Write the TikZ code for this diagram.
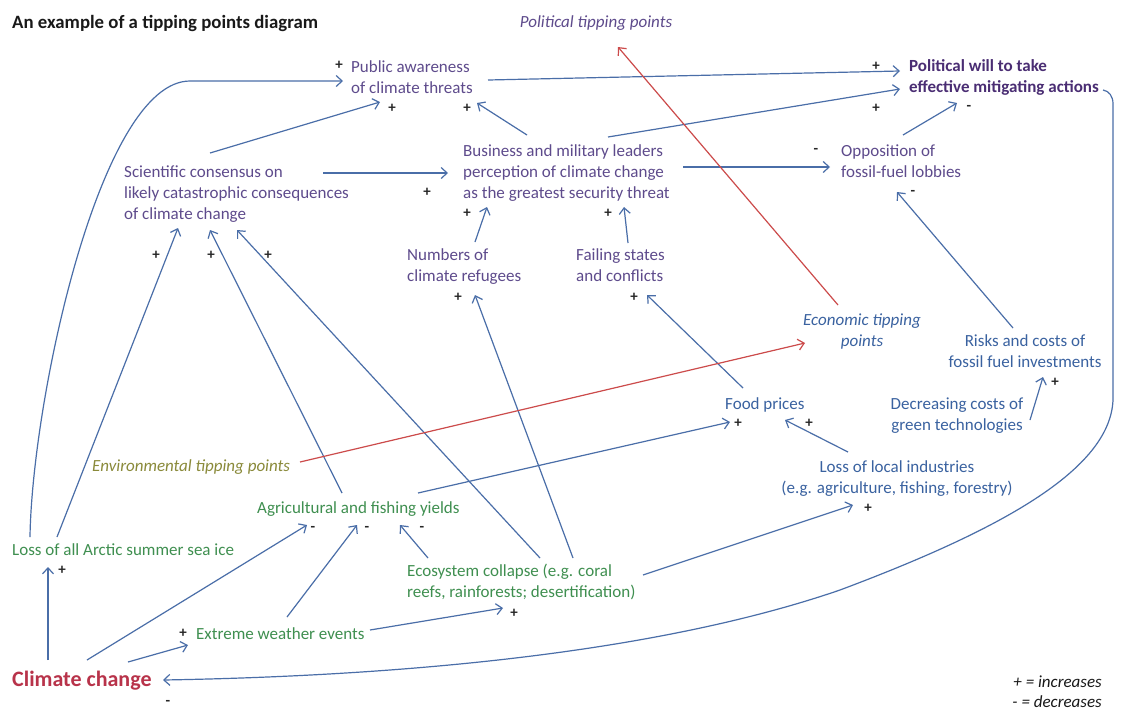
\documentclass[tikz,border=0pt]{standalone}
\usepackage{fontspec}
\setmainfont{Carlito}
\usetikzlibrary{arrows.meta}
\definecolor{purp}{HTML}{5E4B8C}
\definecolor{purpd}{HTML}{4A2D73}
\definecolor{bluet}{HTML}{3A62A0}
\definecolor{greent}{HTML}{3F8F50}
\definecolor{olivet}{HTML}{8A8A3A}
\definecolor{redt}{HTML}{B8334A}
\definecolor{arrowblue}{HTML}{4A6EA8}
\definecolor{arrowred}{HTML}{CC4B4B}
\tikzset{
  txt/.style={inner sep=0pt, font=\fontsize{17}{21}\selectfont, align=left, anchor=base west},
  ctxt/.style={inner sep=0pt, font=\fontsize{17}{21}\selectfont, align=center, anchor=base},
  sign/.style={inner sep=0pt, font=\fontsize{15}{15}\selectfont\bfseries, text=black!85, anchor=center},
  link/.style={draw=arrowblue, line width=1.2pt, -{Straight Barb[length=6pt,width=11pt,line width=1.2pt]}},
  redlink/.style={draw=arrowred, line width=1.2pt, -{Straight Barb[length=6pt,width=11pt,line width=1.2pt]}},
}
\begin{document}
\begin{tikzpicture}[x=1pt,y=-1pt]
\useasboundingbox (0,0) rectangle (1124,713);
\fill[white] (0,0) rectangle (1124,713);
% texts (multi-line nodes are placed at the baseline of their last line)
\node[txt, font=\fontsize{18.8}{22}\selectfont\bfseries, text=black!90] (title) at (12,28) {An example of a tipping points diagram};
\node[ctxt, text=purp, font=\fontsize{17}{21}\selectfont\itshape] (poltip) at (596,27) {Political tipping points};
\node[txt, text=purp] (pub) at (351,93) {Public awareness\\of climate threats};
\node[txt, text=purpd, font=\fontsize{17}{21}\selectfont\bfseries] (polwill) at (909,92) {Political will to take\\effective mitigating actions};
\node[txt, text=purp] (sci) at (124,219) {Scientific consensus on\\likely catastrophic consequences\\of climate change};
\node[txt, text=purp] (bus) at (463,198) {Business and military leaders\\perception of climate change\\as the greatest security threat};
\node[txt, text=purp] (opp) at (841,177) {Opposition of\\fossil-fuel lobbies};
\node[txt, text=purp] (num) at (407,281) {Numbers of\\climate refugees};
\node[txt, text=purp] (fail) at (576,281) {Failing states\\and conflicts};
\node[ctxt, text=bluet, font=\fontsize{17}{21}\selectfont\itshape] (econ) at (862,346) {Economic tipping\\points};
\node[ctxt, text=bluet] (risks) at (1025,367) {Risks and costs of\\fossil fuel investments};
\node[ctxt, text=bluet] (decr) at (957,430) {Decreasing costs of\\green technologies};
\node[txt, text=bluet] (food) at (725,409) {Food prices};
\node[ctxt, text=bluet] (loss) at (897,493) {Loss of local industries\\(e.g. agriculture, fishing, forestry)};
\node[txt, text=olivet, font=\fontsize{17}{21}\selectfont\itshape] (env) at (92,471) {Environmental tipping points};
\node[txt, text=greent] (agri) at (257,513) {Agricultural and fishing yields};
\node[txt, text=greent] (arctic) at (12,555) {Loss of all Arctic summer sea ice};
\node[txt, text=greent] (eco) at (407,597) {Ecosystem collapse (e.g. coral\\reefs, rainforests; desertification)};
\node[txt, text=greent] (extreme) at (196,639) {Extreme weather events};
\node[txt, text=redt, font=\fontsize{22}{26}\selectfont\bfseries] (cc) at (12,686) {Climate change};
\node[inner sep=0pt, align=right, anchor=base east, font=\fontsize{17}{20}\selectfont\itshape, text=black!90] (legend) at (1102,707) {+ = increases\\- = decreases};
% signs
\node[sign] (s1) at (339,65) {+};
\node[sign] (s2) at (392,108) {+};
\node[sign] (s3) at (467,108) {+};
\node[sign] (s4) at (427,192) {+};
\node[sign] (s5) at (467,213) {+};
\node[sign] (s6) at (608,213) {+};
\node[sign] (s7) at (876,66) {+};
\node[sign] (s8) at (876,108) {+};
\node[sign] (s9) at (969,108) {-};
\node[sign] (s10) at (816,151) {-};
\node[sign] (s11) at (913,193) {-};
\node[sign] (s12) at (156,255) {+};
\node[sign] (s13) at (211,255) {+};
\node[sign] (s14) at (268,255) {+};
\node[sign] (s15) at (458,297) {+};
\node[sign] (s16) at (634,297) {+};
\node[sign] (s17) at (738,423) {+};
\node[sign] (s18) at (809,423) {+};
\node[sign] (s19) at (1055,382) {+};
\node[sign] (s20) at (868,508) {+};
\node[sign] (s21) at (313,529) {-};
\node[sign] (s22) at (367,529) {-};
\node[sign] (s23) at (422,529) {-};
\node[sign] (s24) at (62,570) {+};
\node[sign] (s25) at (514,613) {+};
\node[sign] (s26) at (183,633) {+};
\node[sign] (s27) at (168,703) {-};
% connectors
\draw[link] ([shift={(18,-18)}]arctic.base west) .. controls +(2,-137) and +(-90,0) .. ++(160,-456) -- ([shift={(-8,-12)}]pub.base west);
\draw[link] ([shift={(45,-18)}]arctic.base west) -- ([shift={(54,9)}]sci.base west);
\draw[link] ([shift={(85,-20)}]agri.base west) -- ([shift={(86,11)}]sci.base west);
\draw[link] ([shift={(133,-39)}]eco.base west) -- ([shift={(113,11)}]sci.base west);
\draw[link] ([shift={(166,-39)}]eco.base west) -- ([shift={(68,14)}]num.base west);
\draw[link] ([shift={(18,-21)}]food.base west) -- ([shift={(71,14)}]fail.base west);
\draw[link] ([shift={(161,-20)}]agri.base west) -- ([shift={(5,13)}]food.base west);
\draw[link] ([shift={(-49,-41)}]loss.base) -- ([shift={(60,11)}]food.base west);
\draw[link] ([shift={(73,-10)}]decr.base) -- ([shift={(18,10)}]risks.base);
\draw[link] ([shift={(-12,-39)}]risks.base) -- ([shift={(56,15)}]opp.base west);
\draw[link] ([shift={(62,-42)}]opp.base west) -- ([shift={(48,11)}]polwill.base west);
\draw[link] ([shift={(137,-13)}]pub.base west) -- ([shift={(-9,-21)}]polwill.base west);
\draw[link] ([shift={(145,-61)}]bus.base west) -- ([shift={(-9,-3)}]polwill.base west);
\draw[link] ([shift={(220,-31)}]bus.base west) -- ([shift={(-11,-10)}]opp.base west);
\draw[link] ([shift={(64,-63)}]bus.base west) -- ([shift={(126,10)}]pub.base west);
\draw[link] ([shift={(86,-66)}]sci.base west) -- ([shift={(29,9)}]pub.base west);
\draw[link] ([shift={(199,-46)}]sci.base west) -- ([shift={(-15,-25)}]bus.base west);
\draw[link] ([shift={(68,-39)}]num.base west) -- ([shift={(24,9)}]bus.base west);
\draw[link] ([shift={(52,-38)}]fail.base west) -- ([shift={(161,9)}]bus.base west);
\draw[link] ([shift={(36,-26)}]cc.base west) -- ([shift={(36,12)}]arctic.base west);
\draw[link] ([shift={(75,-26)}]cc.base west) -- ([shift={(50,12)}]agri.base west);
\draw[link] ([shift={(116,-24)}]cc.base west) -- ([shift={(-8,6)}]extreme.base west);
\draw[link] ([shift={(91,-22)}]extreme.base west) -- ([shift={(100,12)}]agri.base west);
\draw[link] ([shift={(174,-9)}]extreme.base west) -- ([shift={(96,11)}]eco.base west);
\draw[link] ([shift={(21,-39)}]eco.base west) -- ([shift={(143,12)}]agri.base west);
\draw[link] ([shift={(236,-22)}]eco.base west) -- ([shift={(-44,12)}]loss.base);
\draw[link] ([shift={(194,-2)}]polwill.base west) .. controls +(6,1) and +(0,-8) .. ++(10,14) -- ++(0,296) .. controls +(-3,70) and +(160,-60) .. ++(-273,190) .. controls +(-160,55) and +(287,-5) .. ([shift={(151,-6)}]cc.base west);
\draw[redlink] ([shift={(208,-9)}]env.base west) -- ([shift={(-57,-3)}]econ.base);
\draw[redlink] ([shift={(-24,-41)}]econ.base) -- ([shift={(22,20)}]poltip.base);
\end{tikzpicture}
\end{document}
